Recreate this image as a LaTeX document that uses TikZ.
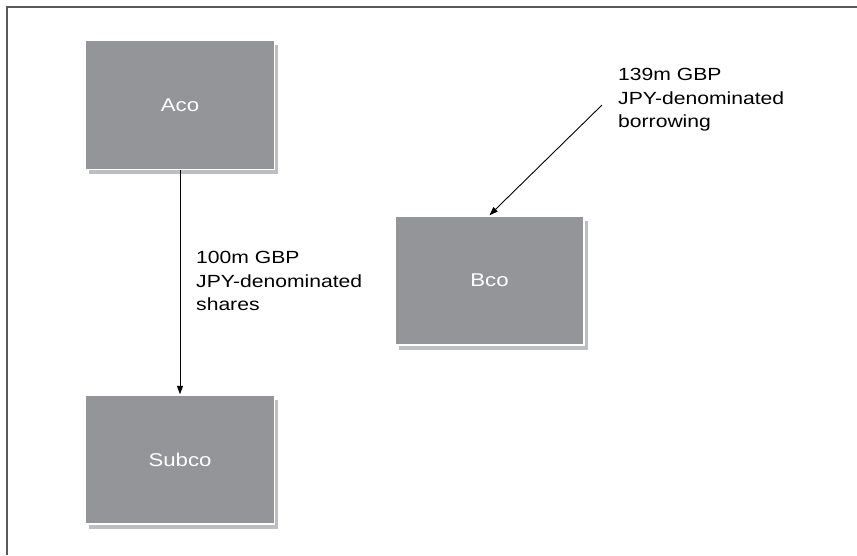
\documentclass[tikz,border=0pt]{standalone}
\usepackage{fontspec}
\setmainfont{Liberation Sans}[FakeStretch=1.2]
\usetikzlibrary{arrows.meta}
\usetikzlibrary{shadows}
\tikzset{>={Triangle[length=8.5pt, width=6pt]}}
\definecolor{boxgray}{HTML}{939598}
\definecolor{shadowgray}{HTML}{BCBEC0}
\definecolor{framegray}{HTML}{58595B}

\begin{document}
\begin{tikzpicture}[x=1pt, y=-1pt,
    company/.style={rectangle, fill=boxgray, draw=white, line width=1.5pt,
      minimum width=189pt, minimum height=129pt, text=white,
      font=\fontsize{18.5}{23}\selectfont,
      drop shadow={shadow xshift=3.5pt, shadow yshift=-4.5pt, fill=shadowgray, opacity=1}},
    flowtext/.style={inner sep=0pt, align=left, anchor=base west,
      font=\fontsize{17.6}{23.3}\selectfont}]
        \useasboundingbox (0, 0) rectangle (857, 555);
        % frame
        \draw[framegray, line width=2pt] (6.5, 555) -- (6.5, 6.5) -- (857, 6.5);
        % node
        \node[company] (aco) at (180, 105) {Aco};
        \node[company] (subco) at (180, 459.5) {Subco};
        \node[company] (bco) at (489.5, 280.5) {Bco};
        \node[flowtext] (shares) at (196, 310.5) {100m GBP\\JPY-denominated\\shares};
        \node[flowtext] (borrow) at (618, 127.5) {139m GBP\\JPY-denominated\\borrowing};
        \coordinate (loan) at (602, 105);
        % lines
        \draw[->, line width=0.9pt] (aco.south) -- (subco.north);
        \draw[->, line width=0.9pt] (loan) -- (bco.north);
      \end{tikzpicture}
\end{document}
